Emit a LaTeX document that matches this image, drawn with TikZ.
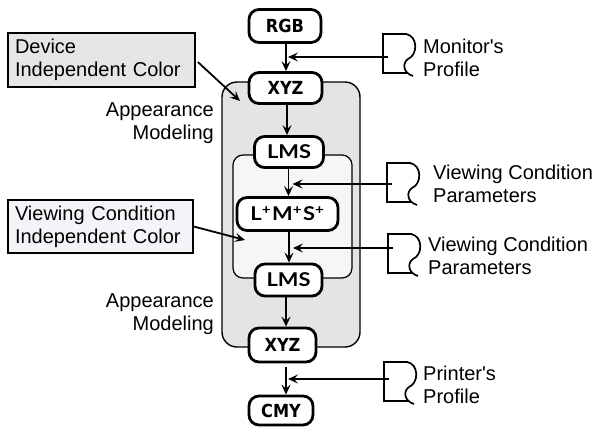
\documentclass[tikz,border=0pt]{standalone}
\usepackage{fontspec}
\setmainfont{Liberation Sans}[Ligatures=TeXOff]
\newfontfamily\sqfont{DejaVu Sans}[FakeStretch=0.9]
\newfontfamily\lmsfont{Lato}[FakeStretch=1.15]
\usetikzlibrary{arrows.meta}
\definecolor{outergray}{RGB}{228,228,231}
\definecolor{innergray}{RGB}{246,246,249}
\definecolor{dicgray}{RGB}{230,230,230}
\definecolor{vcicgray}{RGB}{244,244,248}
\newcommand{\docicon}[2]{\draw[iconline, shift={(#1,#2)}] (24,0) -- (0,0) -- (0,39) -- (24,39) (23,0) .. controls (35,2) and (35,21) .. (25,25) .. controls (19,29) and (20,39) .. (30,42);}
\tikzset{
  cnode/.style={draw, line width=2.8pt, rounded corners=10pt, fill=white, inner sep=0pt, minimum height=31pt},
  sqlabel/.style={cnode, font=\sqfont\bfseries\fontsize{18}{20}\selectfont},
  lmslabel/.style={cnode, font=\lmsfont\bfseries\fontsize{19}{21}\selectfont},
  arr/.style={line width=1.8pt, -{Stealth[length=10pt,width=9pt,inset=4pt]}},
  iconline/.style={line width=1.7pt},
  txt/.style={font=\fontsize{20}{23}\selectfont, inner sep=0pt},
  notebox/.style={draw, line width=1.4pt, font=\fontsize{20}{23}\selectfont, align=left, inner xsep=7pt, inner ysep=0pt},
}
\begin{document}
\begin{tikzpicture}[x=1pt, y=-1pt]
\useasboundingbox[fill=white] (0,0) rectangle (600,429);
% containers
\draw[line width=1.4pt, fill=outergray, rounded corners=15pt] (222,82) rectangle (360,347);
\draw[line width=1.2pt, fill=innergray, rounded corners=10pt] (233,155) rectangle (352,278);
% colour nodes
\node[sqlabel, minimum width=72pt, minimum height=33pt] (rgb) at (285,26) {RGB};
\node[sqlabel, minimum width=73pt] (xyz1) at (285.5,88) {XYZ};
\node[lmslabel, minimum width=69pt] (lms1) at (289,152) {LMS};
\node[lmslabel, minimum width=101pt, minimum height=33pt] (lpp) at (287.5,214) {L\textsuperscript{+}\kern1pt M\textsuperscript{+}\kern1pt S\textsuperscript{+}};
\node[lmslabel, minimum width=67pt, minimum height=32pt] (lms2) at (288.5,280) {LMS};
\node[sqlabel, minimum width=67pt, minimum height=34pt] (xyz2) at (282.5,345) {XYZ};
\node[sqlabel, minimum width=64pt, minimum height=29pt] (cmy) at (281,410.5) {CMY};
% vertical arrows
\draw[arr] (rgb.south -| 286,0) -- (xyz1.north -| 286,0);
\draw[arr] (xyz1.south -| 287,0) -- (lms1.north -| 287,0);
\draw[arr] (lms1.south -| 288.5,0) -- (lpp.north -| 288.5,0);
\draw[arr] (lpp.south -| 289,0) -- (lms2.north -| 289,0);
\draw[arr] (lms2.south -| 286,0) -- (xyz2.north -| 286,0);
\draw[arr, shorten <=4pt] (xyz2.south -| 286,0) -- (cmy.north -| 286,0);
% document icons
\docicon{383}{34}
\docicon{387}{163}
\docicon{388}{234}
\docicon{384}{362}
\coordinate (mon) at (388,57);
\coordinate (vc1) at (392,184);
\coordinate (vc2) at (393,248);
\coordinate (prn) at (389,379);
\coordinate (monT) at (288,57);
\coordinate (vc1T) at (292.5,184);
\coordinate (vc2T) at (293,248);
\coordinate (prnT) at (288,379);
\draw[arr] (mon) -- (monT);
\draw[arr] (vc1) -- (vc1T);
\draw[arr] (vc2) -- (vc2T);
\draw[arr] (prn) -- (prnT);
% icon texts
\node[txt, anchor=west, align=left] (monL) at (423,57.5) {Monitor's\\Profile};
\node[txt, anchor=west, align=left] (vc1L) at (433,183.5) {Viewing Condition\\Parameters};
\node[txt, anchor=west, align=left] (vc2L) at (428,256) {Viewing Condition\\Parameters};
\node[txt, anchor=west, align=left] (prnL) at (423,385) {Printer's\\Profile};
% appearance modeling
\node[txt, anchor=east, align=right] (am1) at (214,123) {Appearance\\Modeling};
\node[txt, anchor=east, align=right] (am2) at (214,314) {Appearance\\Modeling};
% note boxes
\node[notebox, fill=dicgray, text width=173pt, minimum height=54pt] (dic) at (101.5,60) {Device\\Independent Color};
\node[notebox, fill=vcicgray, text width=171pt, minimum height=53pt] (vcic) at (100.5,226.5) {Viewing Condition\\Independent Color};
\coordinate (dicT) at (240,101);
\coordinate (vcicT) at (245,240);
\draw[arr, shorten <=3pt] (dic.east) -- (dicT);
\draw[arr] (vcic.east) -- (vcicT);
\end{tikzpicture}
\end{document}
